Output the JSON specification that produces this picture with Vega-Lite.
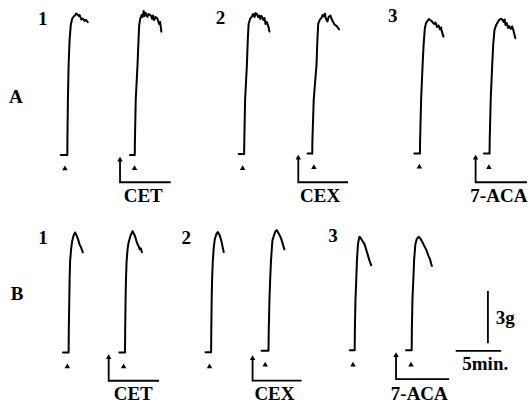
{
  "$schema": "https://vega.github.io/schema/vega-lite/v6.json",
  "width": 531,
  "height": 404,
  "autosize": {"type": "fit", "contains": "padding"},
  "padding": 0,
  "background": "white",
  "config": {"view": {"stroke": null}},
  "datasets": {
    "traces": [
      {"id":"A1a","x":61,"y":155.5},{"id":"A1a","x":67.7,"y":155.5},{"id":"A1a","x":67.8,"y":140},{"id":"A1a","x":68.3,"y":100},{"id":"A1a","x":69,"y":65},{"id":"A1a","x":70,"y":40},{"id":"A1a","x":71.2,"y":25},{"id":"A1a","x":72.5,"y":19},{"id":"A1a","x":74,"y":16.5},{"id":"A1a","x":75.5,"y":15.5},{"id":"A1a","x":76.5,"y":13.5},{"id":"A1a","x":77.7,"y":14.3},{"id":"A1a","x":79,"y":16},{"id":"A1a","x":80,"y":15},{"id":"A1a","x":81.7,"y":19.5},{"id":"A1a","x":83,"y":18.5},{"id":"A1a","x":85,"y":21},{"id":"A1a","x":86.5,"y":20},{"id":"A1a","x":88.3,"y":22.3},
      {"id":"A1b","x":130.7,"y":155.5},{"id":"A1b","x":135.5,"y":155.5},{"id":"A1b","x":135.7,"y":140},{"id":"A1b","x":136.5,"y":100},{"id":"A1b","x":138.3,"y":65},{"id":"A1b","x":139.3,"y":40},{"id":"A1b","x":140,"y":25},{"id":"A1b","x":141,"y":19},{"id":"A1b","x":142.5,"y":15},{"id":"A1b","x":143.5,"y":17},{"id":"A1b","x":144.5,"y":11},{"id":"A1b","x":145.5,"y":16},{"id":"A1b","x":146.5,"y":13},{"id":"A1b","x":148.3,"y":17},{"id":"A1b","x":149.5,"y":14},{"id":"A1b","x":151.7,"y":15.5},{"id":"A1b","x":153,"y":19},{"id":"A1b","x":154,"y":15.5},{"id":"A1b","x":155,"y":20},{"id":"A1b","x":156.5,"y":17},{"id":"A1b","x":158.3,"y":18.5},{"id":"A1b","x":160,"y":24},{"id":"A1b","x":161,"y":22},{"id":"A1b","x":162.3,"y":31.7},
      {"id":"A2a","x":240,"y":154.5},{"id":"A2a","x":245.5,"y":154.5},{"id":"A2a","x":245.7,"y":140},{"id":"A2a","x":246.5,"y":100},{"id":"A2a","x":248.3,"y":65},{"id":"A2a","x":249.2,"y":40},{"id":"A2a","x":250,"y":24},{"id":"A2a","x":251.5,"y":19},{"id":"A2a","x":253.3,"y":16.5},{"id":"A2a","x":254.5,"y":14},{"id":"A2a","x":256,"y":17},{"id":"A2a","x":257,"y":13},{"id":"A2a","x":258.3,"y":14},{"id":"A2a","x":259.5,"y":17},{"id":"A2a","x":261,"y":15.5},{"id":"A2a","x":261.7,"y":19},{"id":"A2a","x":263,"y":16},{"id":"A2a","x":265,"y":20},{"id":"A2a","x":266,"y":18},{"id":"A2a","x":267,"y":24},{"id":"A2a","x":268.3,"y":22},{"id":"A2a","x":270,"y":27},{"id":"A2a","x":271,"y":31.7},
      {"id":"A2b","x":309.3,"y":154},{"id":"A2b","x":314,"y":154},{"id":"A2b","x":314.2,"y":140},{"id":"A2b","x":315.5,"y":100},{"id":"A2b","x":318.3,"y":65},{"id":"A2b","x":319.2,"y":40},{"id":"A2b","x":320,"y":24},{"id":"A2b","x":321.5,"y":20},{"id":"A2b","x":323.3,"y":18},{"id":"A2b","x":324.5,"y":15},{"id":"A2b","x":325.7,"y":16.5},{"id":"A2b","x":326.7,"y":13.5},{"id":"A2b","x":327.5,"y":18},{"id":"A2b","x":329.3,"y":21.5},{"id":"A2b","x":330.5,"y":17},{"id":"A2b","x":332.3,"y":15.5},{"id":"A2b","x":333.5,"y":19},{"id":"A2b","x":335,"y":22},{"id":"A2b","x":336.7,"y":25},{"id":"A2b","x":338.5,"y":26},{"id":"A2b","x":341,"y":29.5},
      {"id":"A3a","x":416.7,"y":154},{"id":"A3a","x":422.3,"y":154},{"id":"A3a","x":422.5,"y":140},{"id":"A3a","x":423.5,"y":100},{"id":"A3a","x":425,"y":65},{"id":"A3a","x":426,"y":45},{"id":"A3a","x":427.3,"y":28},{"id":"A3a","x":428.5,"y":23},{"id":"A3a","x":430,"y":21},{"id":"A3a","x":431.5,"y":19},{"id":"A3a","x":432.7,"y":20},{"id":"A3a","x":434,"y":21},{"id":"A3a","x":435.5,"y":23},{"id":"A3a","x":436.7,"y":24},{"id":"A3a","x":438,"y":22.5},{"id":"A3a","x":439.5,"y":27},{"id":"A3a","x":441,"y":25.5},{"id":"A3a","x":442.5,"y":29.5},{"id":"A3a","x":443.5,"y":27.5},{"id":"A3a","x":444.5,"y":32},{"id":"A3a","x":446,"y":36.7},
      {"id":"A3b","x":486.7,"y":154},{"id":"A3b","x":492.3,"y":154},{"id":"A3b","x":492.5,"y":140},{"id":"A3b","x":493.5,"y":100},{"id":"A3b","x":495,"y":65},{"id":"A3b","x":496,"y":45},{"id":"A3b","x":497.3,"y":30},{"id":"A3b","x":499,"y":25},{"id":"A3b","x":501,"y":21.5},{"id":"A3b","x":502.5,"y":19.5},{"id":"A3b","x":504,"y":19},{"id":"A3b","x":505.5,"y":20},{"id":"A3b","x":506.5,"y":22},{"id":"A3b","x":507.5,"y":19.5},{"id":"A3b","x":508.3,"y":25},{"id":"A3b","x":509.5,"y":23},{"id":"A3b","x":511,"y":28},{"id":"A3b","x":512,"y":26},{"id":"A3b","x":513.5,"y":29},{"id":"A3b","x":515,"y":26.5},{"id":"A3b","x":516.5,"y":31},{"id":"A3b","x":518.3,"y":38.3},
      {"id":"B1a","x":63.3,"y":353.3},{"id":"B1a","x":69,"y":353.3},{"id":"B1a","x":69.2,"y":330},{"id":"B1a","x":69.7,"y":300},{"id":"B1a","x":70,"y":280},{"id":"B1a","x":70.5,"y":262},{"id":"B1a","x":71.5,"y":250},{"id":"B1a","x":72.5,"y":242},{"id":"B1a","x":74,"y":236},{"id":"B1a","x":75.5,"y":233},{"id":"B1a","x":77,"y":236},{"id":"B1a","x":78.5,"y":240},{"id":"B1a","x":80,"y":245},{"id":"B1a","x":81.5,"y":248},{"id":"B1a","x":83.3,"y":253},
      {"id":"B1b","x":120,"y":353.3},{"id":"B1b","x":125.7,"y":353.3},{"id":"B1b","x":125.9,"y":330},{"id":"B1b","x":126.3,"y":300},{"id":"B1b","x":126.7,"y":280},{"id":"B1b","x":127.3,"y":262},{"id":"B1b","x":128.3,"y":250},{"id":"B1b","x":129.3,"y":243},{"id":"B1b","x":131,"y":237},{"id":"B1b","x":133.3,"y":231.7},{"id":"B1b","x":135,"y":235},{"id":"B1b","x":136.5,"y":239},{"id":"B1b","x":137.7,"y":243.3},{"id":"B1b","x":139.5,"y":247},{"id":"B1b","x":140.5,"y":250},{"id":"B1b","x":141.7,"y":249},{"id":"B1b","x":142.7,"y":253},
      {"id":"B2a","x":206.7,"y":353},{"id":"B2a","x":212.3,"y":353},{"id":"B2a","x":212.5,"y":330},{"id":"B2a","x":212.9,"y":300},{"id":"B2a","x":213.3,"y":280},{"id":"B2a","x":214,"y":262},{"id":"B2a","x":215,"y":248},{"id":"B2a","x":216,"y":240},{"id":"B2a","x":217.5,"y":235},{"id":"B2a","x":219,"y":232.7},{"id":"B2a","x":220.5,"y":235},{"id":"B2a","x":221.7,"y":238.3},{"id":"B2a","x":223,"y":243},{"id":"B2a","x":224,"y":248},{"id":"B2a","x":225,"y":252.7},
      {"id":"B2b","x":263,"y":351.5},{"id":"B2b","x":270,"y":351.5},{"id":"B2b","x":270.3,"y":330},{"id":"B2b","x":271,"y":300},{"id":"B2b","x":271.7,"y":280},{"id":"B2b","x":272.5,"y":262},{"id":"B2b","x":273.3,"y":250},{"id":"B2b","x":274,"y":241},{"id":"B2b","x":275.5,"y":236},{"id":"B2b","x":277,"y":232},{"id":"B2b","x":278.3,"y":230.7},{"id":"B2b","x":280,"y":233.5},{"id":"B2b","x":281.7,"y":236.7},{"id":"B2b","x":283,"y":240},{"id":"B2b","x":284.5,"y":245},{"id":"B2b","x":286,"y":250},
      {"id":"B3a","x":351.7,"y":351},{"id":"B3a","x":356.7,"y":351},{"id":"B3a","x":356.9,"y":330},{"id":"B3a","x":357.5,"y":300},{"id":"B3a","x":358.3,"y":280},{"id":"B3a","x":359,"y":260},{"id":"B3a","x":360,"y":245},{"id":"B3a","x":361,"y":239},{"id":"B3a","x":361.7,"y":237.3},{"id":"B3a","x":363,"y":239},{"id":"B3a","x":364.5,"y":241.5},{"id":"B3a","x":366.7,"y":245},{"id":"B3a","x":368.5,"y":251},{"id":"B3a","x":370,"y":256},{"id":"B3a","x":371.5,"y":261},{"id":"B3a","x":373.3,"y":266},
      {"id":"B3b","x":408.3,"y":351},{"id":"B3b","x":414,"y":351},{"id":"B3b","x":414.2,"y":330},{"id":"B3b","x":414.8,"y":300},{"id":"B3b","x":415.7,"y":280},{"id":"B3b","x":416.5,"y":260},{"id":"B3b","x":417.7,"y":245},{"id":"B3b","x":419,"y":240},{"id":"B3b","x":421,"y":237.3},{"id":"B3b","x":423,"y":239.5},{"id":"B3b","x":425,"y":243},{"id":"B3b","x":426.7,"y":246.7},{"id":"B3b","x":428.5,"y":250},{"id":"B3b","x":430,"y":254},{"id":"B3b","x":431,"y":256.7},{"id":"B3b","x":432.5,"y":260},{"id":"B3b","x":433.5,"y":264},{"id":"B3b","x":434.3,"y":266.7}
    ],
    "brackets": [
      {"id":"aCET","x":120.7,"y":160},{"id":"aCET","x":120.7,"y":182.7},{"id":"aCET","x":171.7,"y":182.7},
      {"id":"aCEX","x":300,"y":158},{"id":"aCEX","x":300,"y":182.7},{"id":"aCEX","x":350,"y":182.7},
      {"id":"aACA","x":478.3,"y":158},{"id":"aACA","x":478.3,"y":182.7},{"id":"aACA","x":530,"y":182.7},
      {"id":"bCET","x":109.3,"y":358},{"id":"bCET","x":109.3,"y":381.7},{"id":"bCET","x":160,"y":381.7},
      {"id":"bCEX","x":254,"y":359},{"id":"bCEX","x":254,"y":381.5},{"id":"bCEX","x":303.3,"y":381.5},
      {"id":"bACA","x":398.3,"y":356},{"id":"bACA","x":398.3,"y":380},{"id":"bACA","x":451.7,"y":380},
      {"id":"sV","x":490.7,"y":291.7},{"id":"sV","x":490.7,"y":344},
      {"id":"sH","x":458.3,"y":351.7},{"id":"sH","x":504,"y":351.7}
    ],
    "heads": [
      {"x":120.7,"y":159.5},{"x":300,"y":157.5},{"x":478.3,"y":157.5},
      {"x":109.3,"y":357.5},{"x":254,"y":358.5},{"x":398.3,"y":355.5}
    ],
    "stim": [
      {"x":65.3,"y":168.3},{"x":135.3,"y":168},{"x":244,"y":168},{"x":315.7,"y":167},{"x":421.7,"y":166.5},{"x":491.7,"y":167},
      {"x":67.7,"y":366.7},{"x":124.3,"y":366.7},{"x":210.7,"y":366.7},{"x":266.7,"y":365},{"x":355,"y":365},{"x":413.3,"y":365}
    ],
    "labels": [
      {"t":"CET","x":144,"y":196},{"t":"CEX","x":322,"y":196},{"t":"7-ACA","x":501.7,"y":196},
      {"t":"CET","x":134,"y":395},{"t":"CEX","x":276,"y":395},{"t":"7-ACA","x":421.7,"y":395},
      {"t":"3g","x":508,"y":319},{"t":"5min.","x":488,"y":365}
    ],
    "bold": [
      {"t":"1","x":43,"y":19},{"t":"2","x":221.7,"y":18},{"t":"3","x":395,"y":16},
      {"t":"1","x":43.3,"y":238.5},{"t":"2","x":187.3,"y":238.5},{"t":"3","x":335,"y":237},
      {"t":"A","x":16,"y":97.5},{"t":"B","x":17.3,"y":294.5}
    ]
  },
  "encoding": {
    "x": {"field": "x", "type": "quantitative", "scale": {"domain": [0, 531], "nice": false, "zero": false}, "axis": null},
    "y": {"field": "y", "type": "quantitative", "scale": {"domain": [0, 404], "nice": false, "zero": false, "reverse": true}, "axis": null}
  },
  "layer": [
    {
      "data": {"name": "traces"},
      "mark": {"type": "line", "color": "black", "strokeWidth": 2, "strokeJoin": "round", "strokeCap": "round"},
      "encoding": {"detail": {"field": "id"}, "order": {"value": null}}
    },
    {
      "data": {"name": "brackets"},
      "mark": {"type": "line", "color": "black", "strokeWidth": 1.8},
      "encoding": {"detail": {"field": "id"}, "order": {"value": null}}
    },
    {
      "data": {"name": "heads"},
      "mark": {"type": "point", "shape": "triangle-up", "filled": true, "color": "black", "size": 30, "opacity": 1}
    },
    {
      "data": {"name": "stim"},
      "mark": {"type": "point", "shape": "triangle-up", "filled": true, "color": "black", "size": 30, "opacity": 1}
    },
    {
      "data": {"name": "labels"},
      "mark": {"type": "text", "font": "Liberation Serif", "fontSize": 19, "fontWeight": "bold", "color": "black", "align": "center", "baseline": "middle"},
      "encoding": {"text": {"field": "t"}}
    },
    {
      "data": {"name": "bold"},
      "mark": {"type": "text", "font": "Liberation Serif", "fontSize": 19, "fontWeight": "bold", "color": "black", "align": "center", "baseline": "middle"},
      "encoding": {"text": {"field": "t"}}
    }
  ]
}
